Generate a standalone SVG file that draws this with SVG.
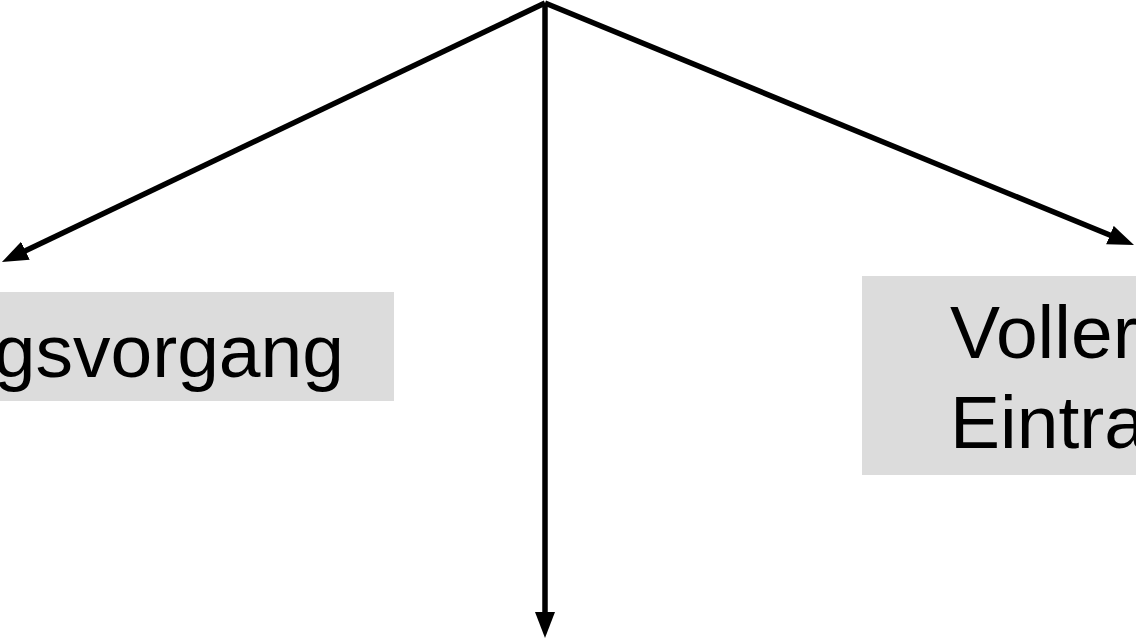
<svg xmlns="http://www.w3.org/2000/svg" width="1136" height="639" viewBox="0 0 1136 639">
<style>
.box{fill:#dcdcdc;stroke:none}
.lbl{font-family:"Liberation Sans",Arial,sans-serif;font-size:75px;fill:#000}
.conn{stroke:#000;stroke-width:5.5;fill:none}
</style>
<defs>
<marker id="ah" markerUnits="userSpaceOnUse" markerWidth="26" markerHeight="20" refX="11" refY="10" orient="auto">
<path d="M0,0 L26,10 L0,20 z" fill="#000"/>
</marker>
</defs>
<rect width="1136" height="639" fill="#fff"/>
<g id="node-left">
<rect class="box" x="-10" y="292" width="404" height="109"/>
<text class="lbl" x="344" y="377" text-anchor="end">gsvorgang</text>
</g>
<g id="node-right">
<rect class="box" x="862" y="276" width="290" height="199"/>
<text class="lbl" x="950" y="358">Voller</text>
<text class="lbl" x="950" y="448">Eintra</text>
</g>
<g id="connectors">
<line class="conn" x1="545" y1="3" x2="15.5" y2="255.5" marker-end="url(#ah)"/>
<line class="conn" x1="545" y1="3" x2="1120.1" y2="239.3" marker-end="url(#ah)"/>
<line class="conn" x1="545" y1="3" x2="545" y2="623" marker-end="url(#ah)"/>
</g>
</svg>
